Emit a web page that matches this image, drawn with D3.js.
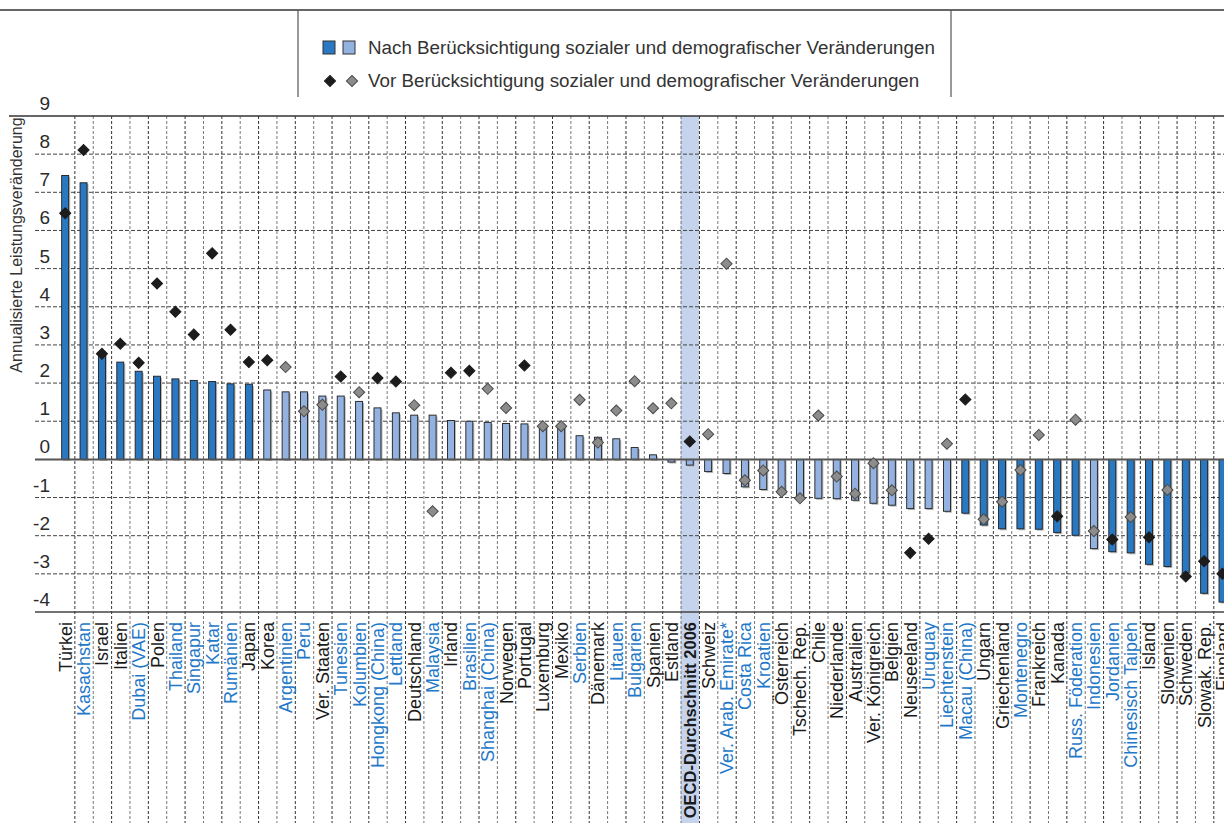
<!DOCTYPE html>
<html>
<head>
<meta charset="utf-8">
<script src="https://cdn.jsdelivr.net/npm/d3@7"></script>
<style>
  body { margin: 0; background: #fff; }
  svg { display: block; font-family: "Liberation Sans", Arial, sans-serif; }
</style>
</head>
<body>
<div id="chart-area"></div>
<script>
// data
const categories = ["Türkei", "Kasachstan", "Israel", "Italien", "Dubai (VAE)", "Polen", "Thailand", "Singapur", "Katar", "Rumänien",
  "Japan", "Korea", "Argentinien", "Peru", "Ver. Staaten", "Tunesien", "Kolumbien", "Hongkong (China)", "Lettland", "Deutschland",
  "Malaysia", "Irland", "Brasilien", "Shanghai (China)", "Norwegen", "Portugal", "Luxemburg", "Mexiko", "Serbien", "Dänemark",
  "Litauen", "Bulgarien", "Spanien", "Estland", "OECD-Durchschnitt 2006", "Schweiz", "Ver. Arab. Emirate*", "Costa Rica", "Kroatien", "Österreich",
  "Tschech. Rep.", "Chile", "Niederlande", "Australien", "Ver. Königreich", "Belgien", "Neuseeland", "Uruguay", "Liechtenstein", "Macau (China)",
  "Ungarn", "Griechenland", "Montenegro", "Frankreich", "Kanada", "Russ. Föderation", "Indonesien", "Jordanien", "Chinesisch Taipeh", "Island",
  "Slowenien", "Schweden", "Slowak. Rep.", "Finnland"];

// annualised change after accounting for social/demographic changes (bars)
const afterValues = [7.44, 7.25, 2.82, 2.55, 2.31, 2.18, 2.11, 2.07, 2.04, 1.98,
  1.97, 1.82, 1.77, 1.77, 1.66, 1.66, 1.52, 1.35, 1.22, 1.16,
  1.16, 1.02, 1.00, 0.97, 0.94, 0.93, 0.92, 0.92, 0.62, 0.58,
  0.54, 0.31, 0.12, -0.07, -0.15, -0.32, -0.37, -0.72, -0.79, -0.90,
  -1.00, -1.02, -1.03, -1.07, -1.15, -1.20, -1.29, -1.29, -1.36, -1.41,
  -1.72, -1.82, -1.82, -1.83, -1.92, -1.99, -2.34, -2.42, -2.45, -2.75,
  -2.81, -2.97, -3.51, -3.74];

// 1 = significant (dark bar)
const afterSig = [1, 1, 1, 1, 1, 1, 1, 1, 1, 1,
  1, 0, 0, 0, 0, 0, 0, 0, 0, 0,
  0, 0, 0, 0, 0, 0, 0, 0, 0, 0,
  0, 0, 0, 0, 0, 0, 0, 0, 0, 0,
  0, 0, 0, 0, 0, 0, 0, 0, 0, 1,
  1, 1, 1, 1, 1, 1, 0, 1, 1, 1,
  1, 1, 1, 1];

// annualised change before accounting (diamonds)
const beforeValues = [6.45, 8.11, 2.77, 3.03, 2.53, 4.61, 3.87, 3.27, 5.40, 3.40,
  2.55, 2.60, 2.42, 1.26, 1.43, 2.17, 1.76, 2.13, 2.04, 1.42,
  -1.36, 2.27, 2.32, 1.85, 1.35, 2.46, 0.87, 0.87, 1.56, 0.44,
  1.28, 2.05, 1.34, 1.47, 0.47, 0.66, 5.13, -0.55, -0.29, -0.85,
  -1.02, 1.15, -0.45, -0.90, -0.10, -0.81, -2.45, -2.08, 0.41, 1.57,
  -1.57, -1.11, -0.28, 0.64, -1.49, 1.04, -1.88, -2.10, -1.51, -2.04,
  -0.80, -3.07, -2.67, -3.00];

// 1 = significant (black diamond)
const beforeSig = [1, 1, 1, 1, 1, 1, 1, 1, 1, 1,
  1, 1, 0, 0, 0, 1, 0, 1, 1, 0,
  0, 1, 1, 0, 0, 1, 0, 0, 0, 0,
  0, 0, 0, 0, 1, 0, 0, 0, 0, 0,
  0, 0, 0, 0, 0, 0, 1, 1, 0, 1,
  0, 0, 0, 0, 1, 0, 0, 1, 0, 1,
  0, 1, 1, 1];

// partner countries are labelled in blue
const partner = [0, 1, 0, 0, 1, 0, 1, 1, 1, 1,
  0, 0, 1, 1, 0, 1, 1, 1, 1, 0,
  1, 0, 1, 1, 0, 0, 0, 0, 1, 0,
  1, 1, 0, 0, 0, 0, 1, 1, 1, 0,
  0, 0, 0, 0, 0, 0, 0, 1, 1, 1,
  0, 0, 1, 0, 0, 1, 1, 1, 1, 0,
  0, 0, 0, 0];

const yTicks = [9, 8, 7, 6, 5, 4, 3, 2, 1, 0, -1, -2, -3, -4];
const oecdName = "OECD-Durchschnitt 2006";

const legendLabels = ["Nach Berücksichtigung sozialer und demografischer Veränderungen",
  "Vor Berücksichtigung sozialer und demografischer Veränderungen"];

const W = 1224, H = 823;
const colDark = "#2a78c2", colLight = "#94b2e0";
const blueText = "#1f78c8", txt = "#2b2b2b";
const narrow = "'Liberation Sans Narrow', 'Liberation Sans', Arial, sans-serif";

const data = categories.map((c, i) => ({
  name: c, after: afterValues[i], aSig: afterSig[i],
  before: beforeValues[i], bSig: beforeSig[i], partner: partner[i]
}));

const svg = d3.select("#chart-area").append("svg")
  .attr("width", W).attr("height", H);

const xScale = d3.scaleBand()
  .domain(categories)
  .range([56, 56 + 64 * 18.37])
  .padding(0);

const yScale = d3.scaleLinear()
  .domain([-4, 9])
  .range([612, 116]);

// OECD highlight column
svg.append("rect")
  .attr("x", xScale(oecdName))
  .attr("y", yScale(9))
  .attr("width", xScale.bandwidth())
  .attr("height", H - yScale(9))
  .attr("fill", "#c6d3ec");

// horizontal grid
svg.append("g").selectAll("line")
  .data(yTicks.filter(t => t !== 9 && t !== 0 && t !== -4))
  .enter().append("line")
    .attr("x1", 35).attr("x2", W)
    .attr("y1", d => yScale(d)).attr("y2", d => yScale(d))
    .attr("stroke", "#444").attr("stroke-width", 1)
    .attr("stroke-dasharray", "4,2");

// vertical grid (band boundaries, run through the label area)
svg.append("g").selectAll("line")
  .data(categories.slice(1))
  .enter().append("line")
    .attr("x1", d => xScale(d) + 0.5).attr("x2", d => xScale(d) + 0.5)
    .attr("y1", yScale(9)).attr("y2", H)
    .attr("stroke", (d, i) => i % 2 ? "#777" : "#333").attr("stroke-width", 1)
    .attr("stroke-dasharray", "3,2");

// solid frame lines
svg.append("line").attr("x1", 9).attr("x2", W)
  .attr("y1", yScale(9)).attr("y2", yScale(9))
  .attr("stroke", "#333").attr("stroke-width", 1.5);
svg.append("line").attr("x1", 35).attr("x2", W)
  .attr("y1", yScale(-4)).attr("y2", yScale(-4))
  .attr("stroke", "#444").attr("stroke-width", 1.5);

// y tick labels
svg.append("g").selectAll("text")
  .data(yTicks)
  .enter().append("text")
    .attr("x", 50)
    .attr("y", d => yScale(d) - 6)
    .attr("text-anchor", "end")
    .attr("font-size", 19)
    .attr("font-family", narrow)
    .attr("fill", txt)
    .text(d => d);

// y axis title
svg.append("text")
  .attr("transform", "translate(22," + 245 + ") rotate(-90)")
  .attr("text-anchor", "middle")
  .attr("font-size", 16)
  .attr("fill", "#333")
  .text("Annualisierte Leistungsveränderung");

const barW = 7;

// bar shadows
svg.append("g").selectAll("rect")
  .data(data)
  .enter().append("rect")
    .attr("x", d => xScale(d.name) + xScale.bandwidth() / 2 - barW / 2 + 1.5)
    .attr("y", d => Math.min(yScale(d.after), yScale(0)) + 1.5)
    .attr("width", barW)
    .attr("height", d => Math.abs(yScale(d.after) - yScale(0)))
    .attr("fill", "#b8b8b8");

// bars
svg.append("g").selectAll("rect")
  .data(data)
  .enter().append("rect")
    .attr("x", d => xScale(d.name) + xScale.bandwidth() / 2 - barW / 2)
    .attr("y", d => Math.min(yScale(d.after), yScale(0)))
    .attr("width", barW)
    .attr("height", d => Math.abs(yScale(d.after) - yScale(0)))
    .attr("fill", d => d.aSig ? colDark : colLight)
    .attr("stroke", "#1e1e1e").attr("stroke-width", 0.9);

// zero line
svg.append("line").attr("x1", 35).attr("x2", W)
  .attr("y1", yScale(0)).attr("y2", yScale(0))
  .attr("stroke", "#555").attr("stroke-width", 2);

// diamonds
const diamond = d3.symbol().type(d3.symbolSquare).size(62);
svg.append("g").selectAll("path")
  .data(data)
  .enter().append("path")
    .attr("d", diamond)
    .attr("transform", d => "translate(" + (xScale(d.name) + xScale.bandwidth() / 2) + "," + yScale(d.before) + ") rotate(45)")
    .attr("fill", d => d.bSig ? "#1c1c1c" : "#8c8c8c")
    .attr("stroke", d => d.bSig ? "#1c1c1c" : "#4a4a4a")
    .attr("stroke-width", 1);

// category labels
svg.append("g").selectAll("text")
  .data(data)
  .enter().append("text")
    .attr("transform", d => "translate(" + (xScale(d.name) + xScale.bandwidth() / 2) + ",622) rotate(-90)")
    .attr("dy", "0.36em")
    .attr("text-anchor", "end")
    .attr("font-size", d => d.name === oecdName ? 16.5 : 18)
    .attr("font-family", narrow)
    .attr("font-weight", d => d.name === oecdName ? "bold" : "normal")
    .attr("fill", d => d.partner ? blueText : "#1a1a1a")
    .text(d => d.name);

// legend frame
svg.append("line").attr("x1", 0).attr("x2", W).attr("y1", 10).attr("y2", 10)
  .attr("stroke", "#333").attr("stroke-width", 1.5);
[298, 951].forEach(x => {
  svg.append("line").attr("x1", x).attr("x2", x).attr("y1", 10).attr("y2", 97)
    .attr("stroke", "#555").attr("stroke-width", 1.2);
});

const legend = svg.append("g");
[colDark, colLight].forEach((c, i) => {
  legend.append("rect")
    .attr("x", 323 + i * 20).attr("y", 41)
    .attr("width", 12).attr("height", 13)
    .attr("fill", c).attr("stroke", "#333").attr("stroke-width", 1);
});
["#1c1c1c", "#8c8c8c"].forEach((c, i) => {
  legend.append("path")
    .attr("d", diamond)
    .attr("transform", "translate(" + (330 + i * 22) + ",81) rotate(45)")
    .attr("fill", c).attr("stroke", i ? "#4a4a4a" : "#1c1c1c");
});
legendLabels.forEach((t, i) => {
  legend.append("text")
    .attr("x", 368).attr("y", 54 + i * 33)
    .attr("font-size", 18.8)
    .attr("fill", "#333")
    .text(t);
});
</script>
</body>
</html>
